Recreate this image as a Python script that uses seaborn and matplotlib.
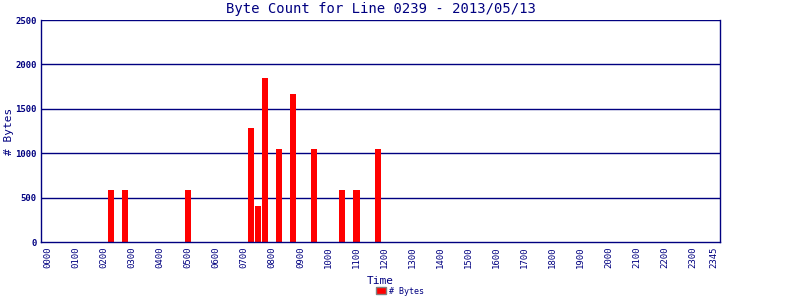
import matplotlib
matplotlib.use("Agg")
import matplotlib.pyplot as plt
import seaborn as sns
import pandas as pd
from matplotlib.patches import Patch

# data: 15-minute slots with non-zero byte counts
slot_times = ["0215", "0245", "0500", "0715", "0730", "0745", "0815",
              "0845", "0930", "1030", "1100", "1145"]
slot_bytes = [588, 588, 588, 1284, 408, 1846, 1048, 1666, 1048, 588, 588, 1048]
tick_labels = [f"{h:02d}00" for h in range(24)] + ["2345"]

all_slots = [f"{h:02d}{m:02d}" for h in range(24) for m in (0, 15, 30, 45)]
lookup = dict(zip(slot_times, slot_bytes))
df = pd.DataFrame({"time": all_slots, "bytes": [lookup.get(t, 0) for t in all_slots]})

navy = "#000080"
sns.set_theme(style="white")
plt.rcParams["font.family"] = ["DejaVu Sans Mono", "DejaVu Sans"]

fig = plt.figure(figsize=(8, 3), dpi=100)
ax = fig.add_axes([41/800, 58/300, (720-41)/800, (242-20)/300])
sns.barplot(data=df, x="time", y="bytes", order=all_slots, color="#ff0000",
            saturation=1, width=0.86, ax=ax, linewidth=0)

ax.set_ylim(0, 2500)
ax.set_xlim(-1.0, 95.85)
ax.set_yticks(range(0, 2501, 500))
ax.set_yticklabels([str(v) for v in range(0, 2501, 500)], fontsize=6.5,
                   color=navy, fontweight="bold")
tick_pos = [all_slots.index(t) for t in tick_labels]
ax.set_xticks(tick_pos)
ax.set_xticklabels(tick_labels, rotation=90, fontsize=6.5, color=navy)
ax.tick_params(axis="both", length=0, pad=3)
for y in range(500, 2501, 500):
    ax.axhline(y, color=navy, lw=1.0, zorder=0)
for s in ["left", "bottom", "right"]:
    ax.spines[s].set_color(navy)
    ax.spines[s].set_linewidth(1.0)
ax.spines["top"].set_visible(False)
ax.set_xlabel("Time", color=navy, fontsize=8, labelpad=6)
ax.set_ylabel("")
fig.text(9/800, 1 - 131/300, "# Bytes", rotation=90, ha="center", va="center",
         color=navy, fontsize=8)
ax.set_title("Byte Count for Line 0239 - 2013/05/13", color=navy, fontsize=10, pad=5)

fig.legend(handles=[Patch(facecolor="#ff0000", edgecolor="#808080", label="# Bytes")],
           loc="lower center", bbox_to_anchor=(0.5, -0.01), frameon=False,
           fontsize=6, handlelength=1.2, handleheight=0.9, handletextpad=0.3,
           labelcolor=navy)

fig.savefig("out.png", dpi=100, facecolor="white")
